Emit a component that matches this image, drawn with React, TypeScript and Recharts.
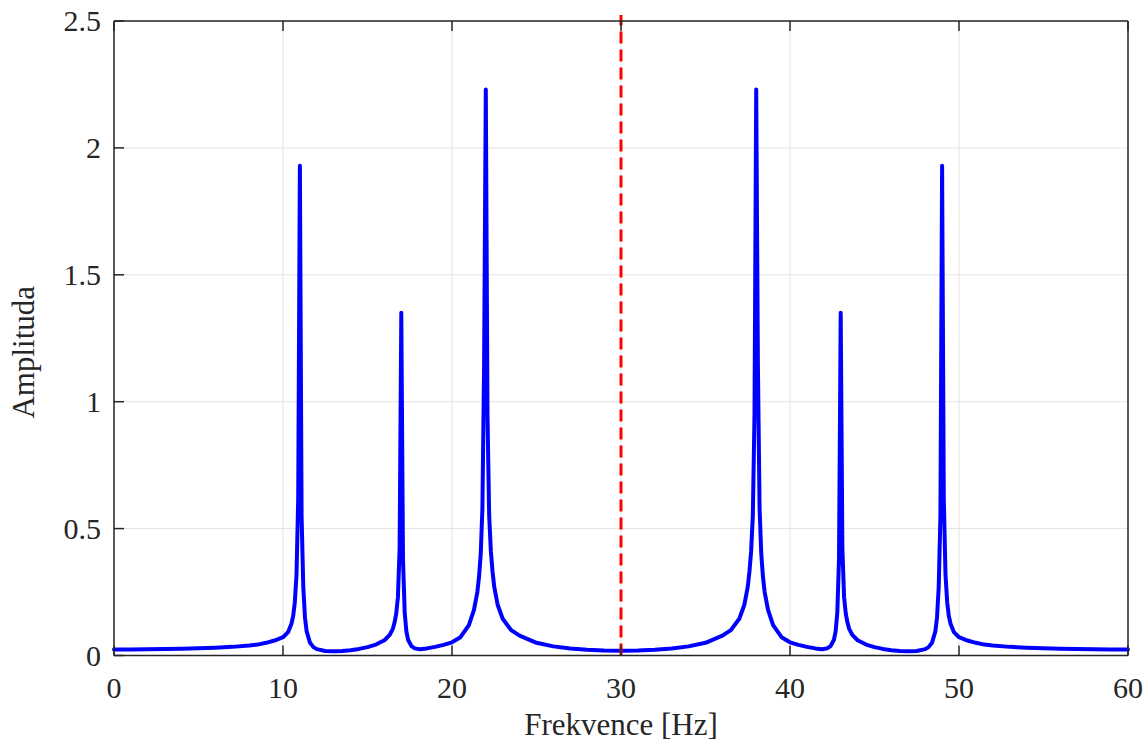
import { LineChart, Line, XAxis, YAxis, CartesianGrid, ReferenceLine } from "recharts";

// frequency axis values [Hz], dense around the peaks
const freqHz = [
    0, 1, 2, 3, 4, 5, 6, 7, 8, 8.5, 9, 9.5, 10, 10.3, 10.5, 10.6, 10.7, 10.8, 10.9,
    11, 11.1, 11.2, 11.3, 11.4, 11.6, 11.8, 12, 12.5, 13, 13.5, 14, 14.5, 15, 15.5,
    16, 16.3, 16.5, 16.6, 16.7, 16.8, 16.9, 17, 17.1, 17.2, 17.3, 17.4, 17.6, 17.8,
    18.1, 18.5, 19, 19.5, 20, 20.5, 21, 21.3, 21.5, 21.6, 21.7, 21.8, 21.9, 22,
    22.1, 22.2, 22.3, 22.4, 22.5, 22.7, 23, 23.5, 24, 25, 26, 27, 28, 29, 30,
    31, 32, 33, 34, 35, 36, 36.5, 37, 37.3, 37.5, 37.6, 37.7, 37.8, 37.9, 38,
    38.1, 38.2, 38.3, 38.4, 38.5, 38.7, 39, 39.5, 40, 40.5, 41, 41.5, 41.9, 42.2,
    42.4, 42.6, 42.7, 42.8, 42.9, 43, 43.1, 43.2, 43.3, 43.4, 43.5, 43.7, 44, 44.5,
    45, 45.5, 46, 46.5, 47, 47.5, 48, 48.2, 48.4, 48.6, 48.7, 48.8, 48.9, 49, 49.1,
    49.2, 49.3, 49.4, 49.5, 49.7, 50, 50.5, 51, 51.5, 52, 53, 54, 55, 56, 57, 58,
    59, 60,
];

const amplitude = [
    0.024, 0.024, 0.025, 0.026, 0.027, 0.029, 0.031, 0.034, 0.039, 0.043, 0.05, 0.059, 0.072, 0.092, 0.125, 0.155, 0.21, 0.32, 0.62,
    1.93, 0.55, 0.27, 0.15, 0.095, 0.05, 0.033, 0.025, 0.018, 0.017, 0.018, 0.021, 0.026, 0.033, 0.043,
    0.06, 0.08, 0.105, 0.13, 0.165, 0.23, 0.42, 1.35, 0.38, 0.17, 0.095, 0.062, 0.037, 0.028,
    0.025, 0.028, 0.034, 0.042, 0.052, 0.072, 0.12, 0.18, 0.25, 0.31, 0.4, 0.58, 1.15, 2.23,
    0.95, 0.55, 0.41, 0.33, 0.27, 0.2, 0.145, 0.1, 0.078, 0.05, 0.036, 0.028, 0.023, 0.02, 0.019,
    0.02, 0.023, 0.028, 0.036, 0.05, 0.078, 0.1, 0.145, 0.2, 0.27, 0.33, 0.41, 0.55, 0.95, 2.23,
    1.15, 0.58, 0.4, 0.31, 0.25, 0.18, 0.12, 0.072, 0.052, 0.042, 0.034, 0.028, 0.025, 0.028,
    0.037, 0.062, 0.095, 0.17, 0.38, 1.35, 0.42, 0.23, 0.165, 0.13, 0.105, 0.08, 0.06, 0.043,
    0.033, 0.026, 0.021, 0.018, 0.017, 0.018, 0.025, 0.033, 0.05, 0.095, 0.15, 0.27, 0.55, 1.93, 0.62,
    0.32, 0.21, 0.155, 0.125, 0.092, 0.072, 0.059, 0.05, 0.043, 0.039, 0.034, 0.031, 0.029, 0.027, 0.026, 0.025,
    0.024, 0.024,
];

const xTicks = [0, 10, 20, 30, 40, 50, 60];
const yTicks = [0, 0.5, 1, 1.5, 2, 2.5];
const nyquistHz = 30;

const FONT = '"Liberation Serif", "Times New Roman", serif';
const INK = "#262626";
const TICK_LEN = 10;

const data = freqHz.map((f, i) => ({ f, a: amplitude[i] }));

const BottomTick = ({ x, y, payload }: any) => (
    <g>
        <line x1={x} y1={y} x2={x} y2={y - TICK_LEN} stroke={INK} strokeWidth={1.5} />
        <text x={x} y={y + 42} textAnchor="middle" fontFamily={FONT} fontSize={30} fill={INK}>
            {payload.value}
        </text>
    </g>
);

const LeftTick = ({ x, y, payload }: any) => (
    <g>
        <line x1={x} y1={y} x2={x + TICK_LEN} y2={y} stroke={INK} strokeWidth={1.5} />
        <text x={x - 13} y={y + 10} textAnchor="end" fontFamily={FONT} fontSize={30} fill={INK}>
            {payload.value}
        </text>
    </g>
);

const TopTick = ({ x, y }: any) => (
    <line x1={x} y1={y} x2={x} y2={y + TICK_LEN} stroke={INK} strokeWidth={1.5} />
);

const RightTick = ({ x, y }: any) => (
    <line x1={x} y1={y} x2={x - TICK_LEN} y2={y} stroke={INK} strokeWidth={1.5} />
);

const YLabel = ({ viewBox }: any) => {
    const cx = 34;
    const cy = viewBox.y + viewBox.height / 2 + 14;
    return (
        <text x={cx} y={cy} transform={`rotate(-90, ${cx}, ${cy})`} textAnchor="middle"
            fontFamily={FONT} fontSize={31} fill={INK}>
            Amplituda
        </text>
    );
};

const XLabel = ({ viewBox }: any) => {
    const cx = viewBox.x + viewBox.width / 2;
    return (
        <text x={cx} y={viewBox.y + 79} textAnchor="middle" fontFamily={FONT} fontSize={31} fill={INK}>
            Frekvence [Hz]
        </text>
    );
};

export default function App() {
    return (
        <>
            <style>{`body { margin: 0; }`}</style>
            <LineChart width={1145} height={742} data={data}
                margin={{ top: 20, right: 16, bottom: 0, left: 0 }}>
                <CartesianGrid stroke="#e3e3e3" strokeWidth={1} />
                <XAxis dataKey="f" type="number" domain={[0, 60]} ticks={xTicks} height={86.5}
                    axisLine={{ stroke: INK, strokeWidth: 1.5 }} tickLine={false} tickSize={0} tickMargin={0}
                    tick={<BottomTick />} label={<XLabel />} interval={0} />
                <XAxis xAxisId="top" orientation="top" dataKey="f" type="number" domain={[0, 60]} ticks={xTicks}
                    height={1} axisLine={{ stroke: INK, strokeWidth: 1.5 }} tickLine={false} tickSize={0}
                    tickMargin={0} tick={<TopTick />} interval={0} />
                <YAxis type="number" domain={[0, 2.5]} ticks={yTicks} width={114}
                    axisLine={{ stroke: INK, strokeWidth: 1.5 }} tickLine={false} tickSize={0} tickMargin={0}
                    tick={<LeftTick />} label={<YLabel />} interval={0} />
                <YAxis yAxisId="right" orientation="right" type="number" domain={[0, 2.5]} ticks={yTicks} width={1}
                    axisLine={{ stroke: INK, strokeWidth: 1.5 }} tickLine={false} tickSize={0} tickMargin={0}
                    tick={<RightTick />} interval={0} />
                <Line type="linear" dataKey="a" stroke="#0000ff" strokeWidth={4} dot={false}
                    strokeLinejoin="round" strokeLinecap="round" isAnimationActive={false} />
                <ReferenceLine segment={[{ x: nyquistHz, y: 0 }, { x: nyquistHz, y: 2.524 }]} ifOverflow="visible"
                    stroke="#ff0000" strokeWidth={3} strokeDasharray="12 6" />
            </LineChart>
        </>
    );
}
